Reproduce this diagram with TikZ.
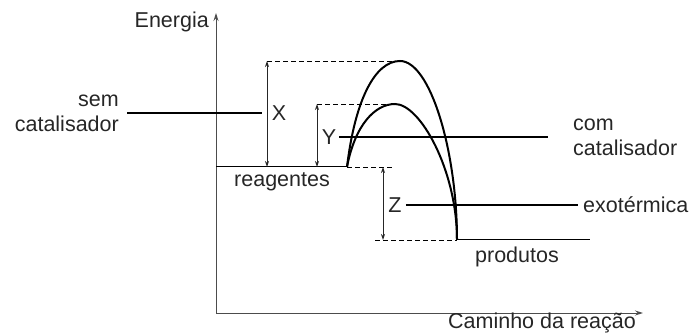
\documentclass[tikz,border=0pt]{standalone}
\usepackage{fontspec}
\setmainfont{Liberation Sans}
\usetikzlibrary{arrows.meta}

\tikzset{
  lbl/.style={font=\fontsize{21.5}{25}\selectfont, text=black!85, inner sep=0pt},
  axis/.style={black!70, line width=1pt, -{Stealth[length=8pt,width=5pt]}},
  level/.style={black, line width=1pt},
  guide/.style={black, line width=0.9pt, dash pattern=on 5pt off 3pt},
  gap/.style={black!85, line width=0.9pt, {Stealth[length=6pt,width=4pt]}-{Stealth[length=6pt,width=4pt]}},
  leader/.style={black, line width=1.6pt},
  hump/.style={black, line width=2pt},
}

\begin{document}
\begin{tikzpicture}[x=1pt,y=-1pt]
  \useasboundingbox (0,0) rectangle (695,336);

  % axes
  \coordinate (o) at (216,313);
  \coordinate (ytip) at (216,13);
  \coordinate (xtip) at (643,313);
  \draw[axis] (o) -- (ytip);
  \draw[axis] (o) -- (xtip);
  \node[lbl, anchor=east] (energia) at (209,22) {Energia};
  \node[lbl, anchor=east] (caminho) at (636,323) {Caminho da reação};

  % reagentes / produtos
  \coordinate (r0) at (216,167);
  \coordinate (r1) at (347,167);
  \coordinate (p0) at (457,240);
  \coordinate (p1) at (590,240);
  \draw[level] (r0) -- (r1);
  \draw[level] (p0) -- (p1);
  \node[lbl, anchor=base] (reag) at (282,187) {reagentes};
  \node[lbl, anchor=base] (prod) at (517,262) {produtos};

  % the two humps
  \coordinate (top1) at (400,61);
  \coordinate (top2) at (395,104);
  \draw[hump] (r1) .. controls (355,100) and (375,61) .. (top1)
    .. controls (430,61) and (457,150) .. (p0);
  \draw[hump] (r1) .. controls (355,125) and (375,104) .. (top2)
    .. controls (420,104) and (457,170) .. (p0);

  % dashed guides
  \coordinate (xa) at (267,61);
  \coordinate (xb) at (267,167);
  \coordinate (ya) at (317,104);
  \coordinate (yb) at (317,167);
  \coordinate (za) at (383,167);
  \coordinate (zb) at (383,240);
  \draw[guide] (xa) -- (top1);
  \draw[guide] (ya) -- (top2);
  \draw[guide] (r1) -- (392,167);
  \draw[guide] (375,240) -- (p0);

  % energy gaps
  \draw[gap] (xa) -- (xb);
  \draw[gap] (ya) -- (yb);
  \draw[gap] (za) -- (zb);
  \node[lbl] (lx) at (279,113) {X};
  \node[lbl] (ly) at (329,137) {Y};
  \node[lbl] (lz) at (395,205) {Z};

  % side labels
  \node[lbl, anchor=east, align=right] (sem) at (119,113) {sem\\catalisador};
  \node[lbl, anchor=west, align=left] (com) at (573,137) {com\\catalisador};
  \node[lbl, anchor=west] (exo) at (583,205) {exotérmica};
  \draw[leader, shorten <=8pt, shorten >=10pt] (sem.east) -- (lx.west);
  \draw[leader, shorten <=3pt, shorten >=25pt] (ly.east) -- (com.west);
  \draw[leader, shorten <=4pt, shorten >=5pt] (lz.east) -- (exo.west);
\end{tikzpicture}
\end{document}
